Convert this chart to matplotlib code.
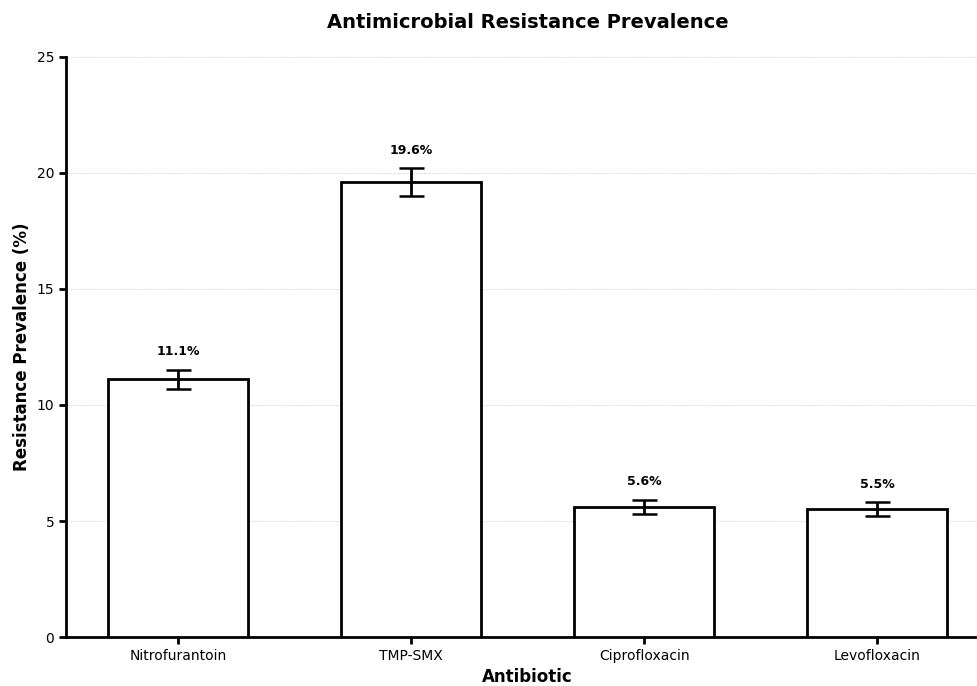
import numpy as np
import matplotlib.pyplot as plt

antibiotics = ['Nitrofurantoin', 'TMP-SMX', 'Ciprofloxacin', 'Levofloxacin']
prevalence = [11.1, 19.6, 5.6, 5.5]
errors = [0.4, 0.6, 0.3, 0.3]

fig = plt.figure(figsize=(9.77, 6.86), dpi=100)
ax = fig.add_axes([0.0676, 0.0714, 0.9447, 0.8456])

x = np.arange(len(antibiotics))
ax.bar(x, prevalence, width=0.6, color='white', edgecolor='black', linewidth=2, zorder=3)
ax.errorbar(x, prevalence, yerr=errors, fmt='none', ecolor='black', elinewidth=2,
            capsize=9, capthick=1.8, zorder=4)

for xi, v, e in zip(x, prevalence, errors):
    ax.annotate(f'{v}%', (xi, v + e), xytext=(0, 8.5), textcoords='offset points',
                ha='center', va='bottom', fontsize=9, fontweight='bold')

ax.set_xticks(x)
ax.set_xticklabels(antibiotics, fontsize=10)
ax.set_ylim(0, 25)
ax.set_yticks([0, 5, 10, 15, 20, 25])
ax.tick_params(axis='y', labelsize=10, width=2, length=5)
ax.tick_params(axis='x', width=2, length=5)
ax.set_xlim(-0.48, 3.48)

ax.yaxis.grid(True, linestyle='--', color='#dddddd', linewidth=0.6, zorder=0)
ax.set_axisbelow(True)

for s in ['top', 'right']:
    ax.spines[s].set_visible(False)
for s in ['left', 'bottom']:
    ax.spines[s].set_linewidth(2)

ax.set_xlabel('Antibiotic', fontsize=12, fontweight='bold', labelpad=4)
ax.set_ylabel('Resistance Prevalence (%)', fontsize=12, fontweight='bold')
ax.set_title('Antimicrobial Resistance Prevalence', fontsize=14, fontweight='bold', pad=21)

fig.savefig('out.png', dpi=100)
